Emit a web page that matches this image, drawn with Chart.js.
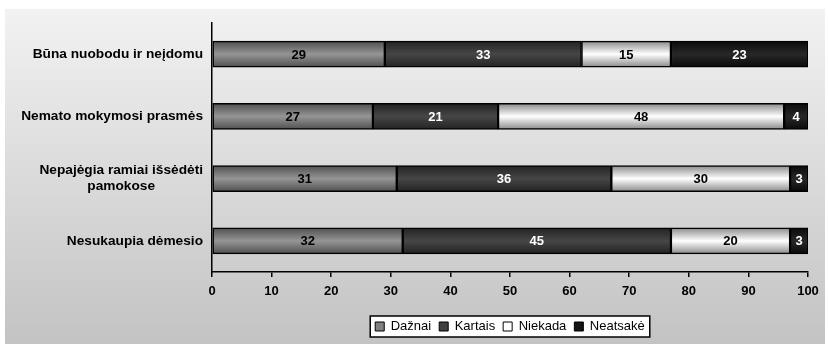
<!DOCTYPE html>
<html>
<head>
<meta charset="utf-8">
<script src="https://cdn.jsdelivr.net/npm/chart.js@4"></script>
<style>
  html, body { margin: 0; padding: 0; background: #fff; }
</style>
</head>
<body>
<canvas id="barChart" width="828" height="344"></canvas>
<script>
// categories (top to bottom) and the four answer series, in percent
const categories = [
    ['Būna nuobodu ir neįdomu'],
    ['Nemato mokymosi prasmės'],
    ['Nepajėgia ramiai išsėdėti', 'pamokose'],
    ['Nesukaupia dėmesio']
];
const seriesNames = ['Dažnai', 'Kartais', 'Niekada', 'Neatsakė'];
const daznaiValues = [29, 27, 31, 32];
const kartaisValues = [33, 21, 36, 45];
const niekadaValues = [15, 48, 30, 20];
const neatsakeValues = [23, 4, 3, 3];
const xTickValues = [0, 10, 20, 30, 40, 50, 60, 70, 80, 90, 100];

const FONT = '"Liberation Sans", Arial, sans-serif';

// edge / middle colours for the tube-like shading, plus a flat colour for the legend
const shades = [
    { edge: '#505050', mid: '#959595', flat: '#808080', text: '#000' },
    { edge: '#232323', mid: '#464646', flat: '#404040', text: '#fff' },
    { edge: '#8a8a8a', mid: '#ffffff', flat: '#ffffff', text: '#000' },
    { edge: '#0a0a0a', mid: '#282828', flat: '#141414', text: '#fff' }
];

function barFill(s) {
    return function (c) {
        const chart = c.chart;
        if (c.dataIndex === undefined || !chart.chartArea) return s.flat;
        const y = chart.scales.y.getPixelForValue(c.dataIndex);
        const g = chart.ctx.createLinearGradient(0, y - 13, 0, y + 13);
        g.addColorStop(0, s.edge);
        g.addColorStop(0.5, s.mid);
        g.addColorStop(1, s.edge);
        return g;
    };
}

const allValues = [daznaiValues, kartaisValues, niekadaValues, neatsakeValues];

const datasets = seriesNames.map((name, i) => ({
    label: name,
    data: allValues[i],
    backgroundColor: barFill(shades[i]),
    borderColor: '#000',
    borderWidth: 1.5,
    borderSkipped: false,
    barThickness: 26
}));

// gradient backdrop and the framed legend box; legend centred under the plot
const backdrop = {
    id: 'backdrop',
    afterLayout(chart) {
        const lg = chart.legend;
        const dx = (chart.chartArea.left + chart.chartArea.right) / 2 - (lg.left + lg.right) / 2;
        lg.left += dx;
        lg.right += dx;
    },
    beforeDraw(chart) {
        const ctx = chart.ctx;
        ctx.save();
        ctx.fillStyle = '#fff';
        ctx.fillRect(0, 0, chart.width, chart.height);
        const g = ctx.createLinearGradient(0, 9, 0, chart.height);
        g.addColorStop(0, '#f2f2f2');
        g.addColorStop(1, '#c3c3c3');
        ctx.fillStyle = g;
        ctx.fillRect(5, 9, 820, chart.height - 9);

        const hb = chart.legend.legendHitBoxes;
        if (hb && hb.length) {
            const last = hb[hb.length - 1];
            const l = hb[0].left - 5;
            const r = last.left + last.width + 5;
            const t = hb[0].top - 4;
            const b = hb[0].top + hb[0].height + 4;
            ctx.fillStyle = '#fff';
            ctx.fillRect(l, t, r - l, b - t);
            ctx.strokeStyle = '#000';
            ctx.lineWidth = 1.5;
            ctx.strokeRect(l, t, r - l, b - t);
        }
        ctx.restore();
    }
};

// value labels in the middle of every segment
const segmentLabels = {
    id: 'segmentLabels',
    afterDatasetsDraw(chart) {
        const ctx = chart.ctx;
        ctx.save();
        ctx.font = 'bold 13px ' + FONT;
        ctx.textAlign = 'center';
        ctx.textBaseline = 'middle';
        chart.data.datasets.forEach((ds, i) => {
            chart.getDatasetMeta(i).data.forEach((bar, j) => {
                const p = bar.getProps(['x', 'y', 'base'], true);
                ctx.fillStyle = shades[i].text;
                ctx.fillText(ds.data[j], (p.x + p.base) / 2, p.y + 1);
            });
        });
        ctx.restore();
    }
};

// category labels: right-aligned block, lines centred within it
const categoryLabels = {
    id: 'categoryLabels',
    afterDraw(chart) {
        const ctx = chart.ctx;
        const yScale = chart.scales.y;
        const right = chart.chartArea.left - 9;
        ctx.save();
        ctx.font = 'bold 13.7px ' + FONT;
        ctx.fillStyle = '#000';
        ctx.textAlign = 'center';
        ctx.textBaseline = 'middle';
        categories.forEach((lines, i) => {
            const y = yScale.getPixelForTick(i);
            const w = Math.max(...lines.map(t => ctx.measureText(t).width));
            const cx = right - w / 2;
            const lh = 16;
            const y0 = y - (lines.length - 1) * lh / 2;
            lines.forEach((t, k) => ctx.fillText(t, cx, y0 + k * lh));
        });
        ctx.restore();
    }
};

const barChart = new Chart(document.getElementById('barChart').getContext('2d'), {
    type: 'bar',
    data: {
        labels: categories,
        datasets: datasets
    },
    options: {
        indexAxis: 'y',
        responsive: false,
        animation: false,
        layout: {
            padding: { top: 23, right: 20, bottom: 1, left: 0 }
        },
        scales: {
            x: {
                stacked: true,
                min: 0,
                max: 100,
                afterBuildTicks: (scale) => {
                    scale.ticks = xTickValues.map(v => ({ value: v }));
                },
                afterFit: (scale) => { scale.height = 40; },
                grid: {
                    drawOnChartArea: false,
                    drawTicks: true,
                    tickLength: 5,
                    color: '#000',
                    lineWidth: 1.5
                },
                border: { display: true, color: '#000', width: 1.5 },
                ticks: {
                    color: '#000',
                    padding: 7,
                    font: { family: FONT, size: 13, weight: 'bold' }
                }
            },
            y: {
                stacked: true,
                afterFit: (scale) => { scale.width = 212; },
                grid: { display: false },
                border: { display: true, color: '#000', width: 1.5 },
                ticks: { display: false }
            }
        },
        plugins: {
            tooltip: { enabled: false },
            legend: {
                position: 'bottom',
                labels: {
                    color: '#000',
                    boxWidth: 9,
                    boxHeight: 9,
                    padding: 8,
                    font: { family: FONT, size: 13 },
                    generateLabels: (chart) => chart.data.datasets.map((ds, i) => ({
                        text: ds.label,
                        fillStyle: shades[i].flat,
                        strokeStyle: '#000',
                        lineWidth: 1,
                        datasetIndex: i
                    }))
                }
            }
        }
    },
    plugins: [backdrop, segmentLabels, categoryLabels]
});
</script>
</body>
</html>
